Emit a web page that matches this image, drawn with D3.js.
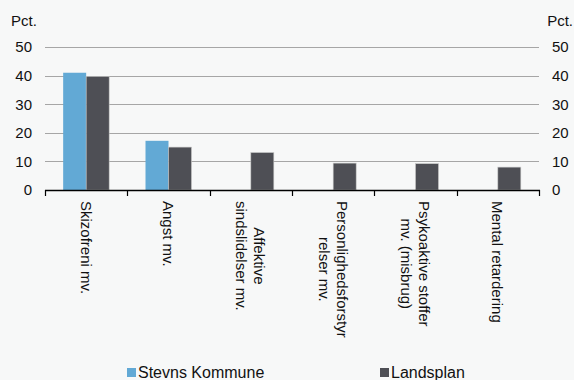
<!DOCTYPE html>
<html><head><meta charset="utf-8">
<script src="https://cdn.jsdelivr.net/npm/d3@7"></script>
<style>
html,body{margin:0;padding:0;background:#f7f8f8;}
svg{display:block;font-family:"Liberation Sans",Arial,sans-serif;}
</style></head>
<body>
<svg id="c" width="574" height="380"></svg>
<script>
const categories = [
  ["Skizofreni mv."],
  ["Angst mv."],
  ["Affektive","sindslidelser mv."],
  ["Personlighedsforstyr","relser mv."],
  ["Psykoaktive stoffer","mv. (misbrug)"],
  ["Mental retardering"]
];
const seriesNames = ["Stevns Kommune","Landsplan"];
const stevns = [41, 17.2, null, null, null, null];
const landsplan = [39.7, 15, 13.1, 9.4, 9.2, 8];
const yTicks = [0,10,20,30,40,50];
const colors = ["#62a9d5","#4e4f55"];

(function(){
const svg = d3.select("#c");
const W = 574, H = 380;
const pl = 45, pr = 539, pt = 47, pb = 190;

const x = d3.scaleBand().domain(d3.range(categories.length)).range([pl,pr]).paddingInner(0).paddingOuter(0);
const xs = d3.scaleBand().domain([0,1]).range([0, 46]);
const y = d3.scaleLinear().domain([0,50]).range([pb, pt]);

svg.append("rect").attr("width",W).attr("height",H).attr("fill","#f7f8f8");

// gridlines
svg.append("g").selectAll("line").data(yTicks.filter(d=>d>0)).join("line")
  .attr("x1",pl).attr("x2",pr)
  .attr("y1",d=>Math.round(y(d))+0.5).attr("y2",d=>Math.round(y(d))+0.5)
  .attr("stroke","#a6a6a6").attr("stroke-width",1);

// bars
const data = [stevns, landsplan];
data.forEach((arr, si) => {
  svg.append("g").selectAll("rect").data(arr.map((v,i)=>({v,i})).filter(d=>d.v!=null)).join("rect")
    .attr("x", d => x(d.i) + x.bandwidth()/2 - 23 + xs(si))
    .attr("width", xs.bandwidth())
    .attr("y", d => y(d.v))
    .attr("height", d => y(0)-y(d.v))
    .attr("fill", colors[si])
    .attr("stroke", si===1 ? "#c8c8c8" : "none")
    .attr("stroke-width", 0.6);
});

// x axis
svg.append("line").attr("x1",pl).attr("x2",pr+1).attr("y1",pb+0.5).attr("y2",pb+0.5)
  .attr("stroke","#000").attr("stroke-width",1.6);
const tickXs = d3.range(categories.length+1).map(i => i<categories.length ? x(i) : pr);
svg.append("g").selectAll("line").data(tickXs).join("line")
  .attr("x1",d=>Math.round(d)+0.5).attr("x2",d=>Math.round(d)+0.5)
  .attr("y1",pb).attr("y2",pb+6).attr("stroke","#000").attr("stroke-width",1.2);

// y labels
const yl = svg.append("g").attr("font-size",15).attr("fill","#111");
yl.selectAll("text.l").data(yTicks).join("text").attr("class","l")
  .attr("x",32).attr("y",d=>y(d)).attr("dy","0.36em").attr("text-anchor","end").text(d=>d);
yl.selectAll("text.r").data(yTicks).join("text").attr("class","r")
  .attr("x",552).attr("y",d=>y(d)).attr("dy","0.36em").attr("text-anchor","start").text(d=>d);
yl.append("text").attr("x",11).attr("y",26).text("Pct.");
yl.append("text").attr("x",573).attr("y",26).attr("text-anchor","end").text("Pct.");

// category labels rotated
const lab = svg.append("g").attr("font-size",15).attr("fill","#111");
categories.forEach((lines, i) => {
  const cx = x(i) + x.bandwidth()/2;
  const g = lab.append("g").attr("transform", `translate(${cx},201) rotate(90)`);
  const texts = lines.map(t => g.append("text").text(t));
  const maxW = d3.max(texts, t => t.node().getComputedTextLength());
  const n = lines.length, lh = 18;
  texts.forEach((t, k) => {
    t.attr("x", maxW/2).attr("text-anchor","middle")
     .attr("y", (k - (n-1)/2) * lh).attr("dy","0.36em");
  });
});

// legend
const leg = svg.append("g").attr("font-size",16).attr("fill","#111");
const legX = [127, 380];
seriesNames.forEach((s, i) => {
  leg.append("rect").attr("x",legX[i]).attr("y",368).attr("width",9).attr("height",9).attr("fill",colors[i]);
  leg.append("text").attr("x",legX[i]+11).attr("y",378).text(s);
});
})();
</script>
</body></html>
